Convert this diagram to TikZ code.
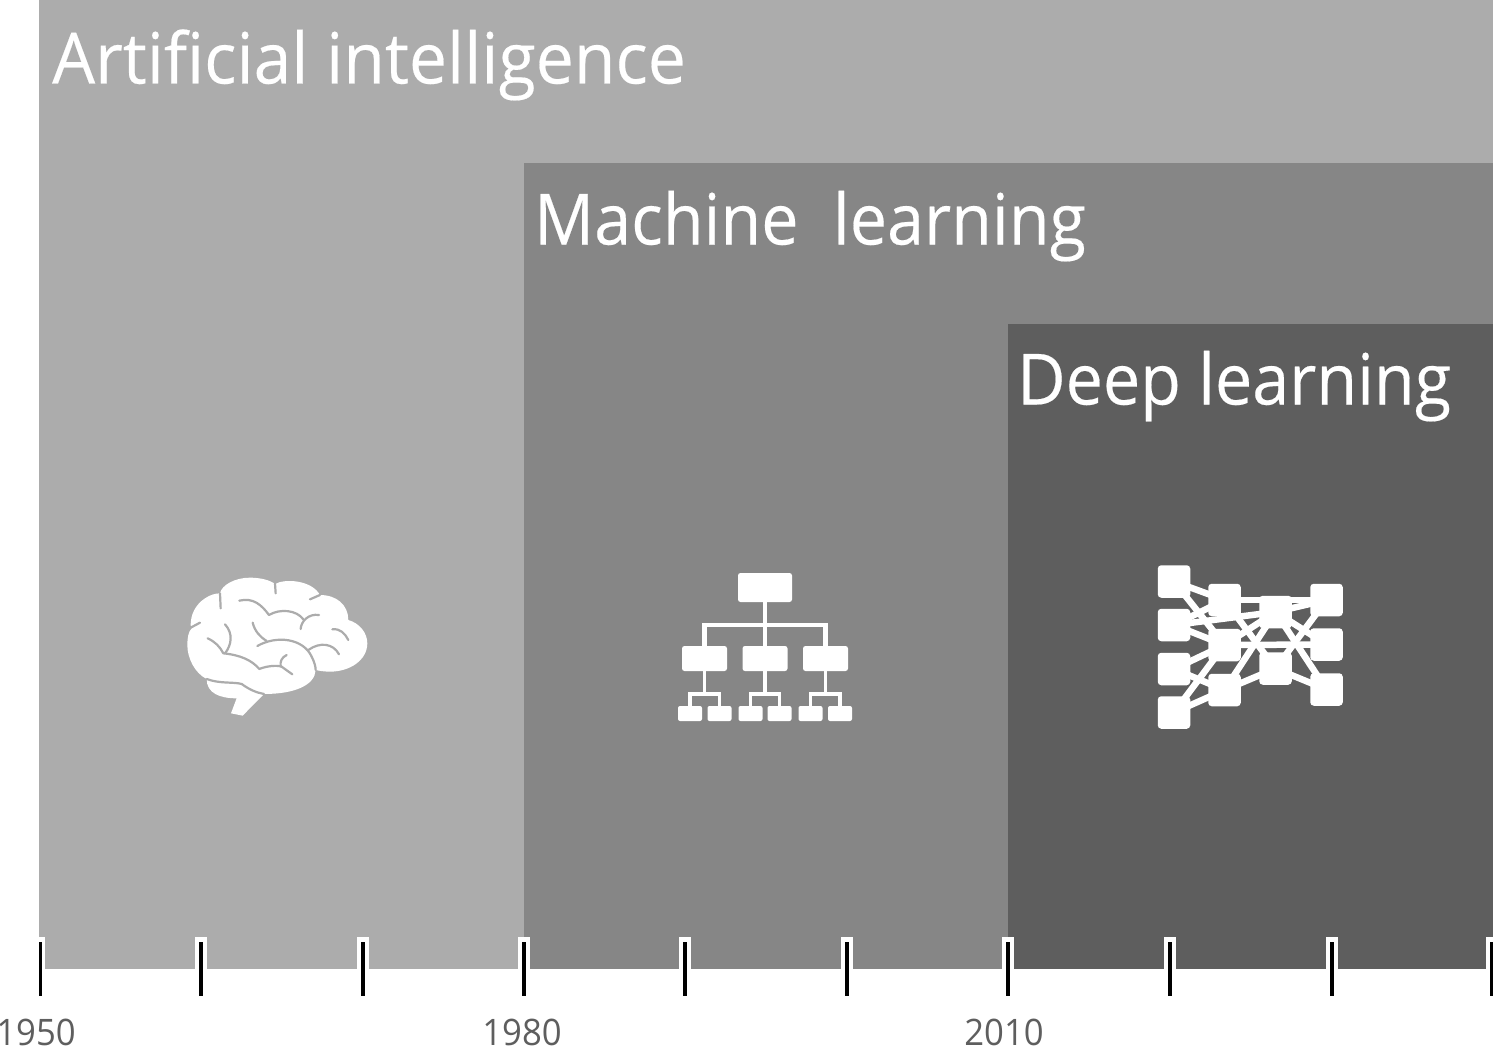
\documentclass[tikz,border=0pt]{standalone}
\usepackage{fontspec}
\newfontfamily\labelfont[FakeStretch=0.96,FakeBold=0.25]{Open Sans}
\newfontfamily\labelfontb[FakeStretch=0.94,FakeBold=0.25]{Open Sans}
\newfontfamily\yearfont[FakeStretch=0.95]{Open Sans}
\tikzset{
  every picture/.style={x=1pt,y=-1pt},
  title/.style={text=white,anchor=base west,inner sep=0pt,font=\labelfont\fontsize{70.7}{80}\selectfont},
  titleb/.style={text=white,anchor=base west,inner sep=0pt,font=\labelfontb\fontsize{70.7}{80}\selectfont},
  year/.style={text=yeargray,anchor=base,inner sep=0pt,font=\yearfont\fontsize{36.5}{40}\selectfont},
  tick/.style={draw=black,line width=3.6pt},
  sulcus/.style={draw=aigray,line width=2.2pt,line cap=round,line join=round},
  orgbig/.style={fill=white,draw=none,rounded corners=2.5pt,inner sep=0pt,minimum width=54pt,minimum height=29pt},
  orgmid/.style={fill=white,draw=none,rounded corners=2.5pt,inner sep=0pt,minimum width=45pt,minimum height=25pt},
  orgsmall/.style={fill=white,draw=none,rounded corners=2pt,inner sep=0pt,minimum width=24pt,minimum height=15pt},
  orgline/.style={draw=white,line width=4.5pt},
  orgthin/.style={draw=white,line width=3.8pt},
  neuron/.style={fill=white,draw=none,rounded corners=3.5pt,inner sep=0pt,minimum size=32.5pt},
  synapse/.style={draw=white,line width=6.5pt},
}
\definecolor{aigray}{HTML}{ACACAC}
\definecolor{mlgray}{HTML}{868686}
\definecolor{dlgray}{HTML}{5E5E5E}
\definecolor{yeargray}{HTML}{5E5E5E}
\begin{document}
\begin{tikzpicture}
\useasboundingbox (0,0) rectangle (1494,1046);
\fill[white] (0,0) rectangle (1494,1046);
% nested eras
\fill[aigray] (39,0) rectangle (1493,969);
\fill[mlgray] (524,163) rectangle (1493,969);
\fill[dlgray] (1008,324) rectangle (1493,969);
% ticks
\fill[white] (34,937) rectangle (45,970);
\foreach \x in {201,363,524,685,847,1008,1170,1332}{
  \fill[white] (\x-6,937) rectangle (\x+6,970);
}
\fill[white] (1486,937) rectangle (1494,970);
\foreach \x in {40.5,201,363,524,685,847,1008,1170,1332,1491.5}{
  \draw[tick] (\x,942) -- (\x,996);
}
% labels
\node[title] (ai) at (52,83.5) {Artificial intelligence};
\node[titleb] (ml) at (534,244.5) {Machine\ \ learning};
\node[titleb] (dl) at (1017,404.5) {Deep learning};
\node[year] (y1950) at (36,1045) {1950};
\node[year] (y1980) at (522,1045) {1980};
\node[year] (y2010) at (1004,1045) {2010};
% brain
\begin{scope}[shift={(170,560)},x=0.3333pt,y=-0.3333pt]
\fill[white] (62,195) .. controls (62,165) and (75,135) .. (105,115)
  .. controls (120,105) and (135,100) .. (150,100)
  .. controls (155,75) and (195,53) .. (240,53)
  .. controls (270,53) and (300,60) .. (315,72)
  .. controls (345,55) and (425,60) .. (450,105)
  .. controls (500,105) and (535,135) .. (535,180)
  .. controls (570,190) and (592,220) .. (592,250)
  .. controls (592,300) and (540,335) .. (480,335)
  .. controls (465,335) and (450,333) .. (437,330)
  .. controls (435,375) and (375,402) .. (282,402)
  -- (218,467) -- (183,460) -- (200,415)
  .. controls (150,415) and (110,400) .. (110,357)
  .. controls (75,340) and (52,295) .. (52,255)
  .. controls (52,235) and (55,215) .. (65,205) -- cycle;
\draw[sulcus] (62,203) -- (90,188);
\draw[sulcus] (150,100) -- (152,145);
\draw[sulcus] (315,70) -- (317,100);
\draw[sulcus] (450,105) -- (420,118);
\draw[sulcus] (208,122) .. controls (250,112) and (275,135) .. (297,165)
  .. controls (330,145) and (380,150) .. (400,178);
\draw[sulcus] (392,207) .. controls (393,185) and (415,160) .. (447,165);
\draw[sulcus] (165,193) .. controls (190,220) and (185,255) .. (165,280);
\draw[sulcus] (113,235) .. controls (135,245) and (150,260) .. (160,280)
  .. controls (210,285) and (245,300) .. (268,327)
  .. controls (290,318) and (320,315) .. (335,320);
\draw[sulcus] (350,285) .. controls (335,292) and (330,305) .. (332,318) -- (367,343);
\draw[sulcus] (248,188) .. controls (255,215) and (270,230) .. (290,243);
\draw[sulcus] (262,258) .. controls (320,225) and (400,235) .. (425,290)
  .. controls (433,305) and (437,320) .. (437,330);
\draw[sulcus] (415,270) .. controls (450,245) and (490,250) .. (507,283);
\draw[sulcus] (487,208) .. controls (510,205) and (525,220) .. (535,240);
\draw[sulcus] (110,357) .. controls (150,372) and (190,365) .. (215,372)
  .. controls (240,390) and (260,398) .. (282,402);
\end{scope}
% decision tree
\node[orgbig] (root) at (765,587.5) {};
\node[orgmid] (m1) at (704.5,658.5) {};
\node[orgmid] (m2) at (765,658.5) {};
\node[orgmid] (m3) at (825.5,658.5) {};
\foreach \n/\x in {a/690,b/719.5,c/750.5,d/779.5,e/810.5,f/840}{
  \node[orgsmall] (\n) at (\x,713.5) {};
}
\coordinate (bar) at (765,625);
\coordinate (s1) at (704.5,694);
\coordinate (s2) at (765,694);
\coordinate (s3) at (825.5,694);
\draw[orgline] (root.south) -- (m2.north);
\draw[orgline] (m1.north) |- (bar) -| (m3.north);
\draw[orgthin] (m1.south) -- (s1);
\draw[orgthin] (m2.south) -- (s2);
\draw[orgthin] (m3.south) -- (s3);
\draw[orgthin] (a.north) |- (s1) -| (b.north);
\draw[orgthin] (c.north) |- (s2) -| (d.north);
\draw[orgthin] (e.north) |- (s3) -| (f.north);
% neural network
\foreach \n/\x/\y in {p1/1174/581.5,p2/1174/625,p3/1174/669,p4/1174/712.5,
  q1/1224.5/600,q2/1224.5/645,q3/1224.5/690,
  r1/1275.5/612,r2/1275.5/668.5,
  t1/1326.5/600,t2/1326.5/644.5,t3/1326.5/689.5}{
  \node[neuron] (\n) at (\x,\y) {};
}
\foreach \a/\b in {p1/q1,p1/q2,p2/q1,p2/q2,p2/r1,p3/q2,p3/q3,p4/q2,p4/q3,
  q1/t1,q1/r2,q2/r1,q2/t2,q3/r1,q3/r2,
  r1/t1,r1/t2,r1/t3,r2/t1,r2/t3}{
  \draw[synapse] (\a.center) -- (\b.center);
}
\end{tikzpicture}
\end{document}
